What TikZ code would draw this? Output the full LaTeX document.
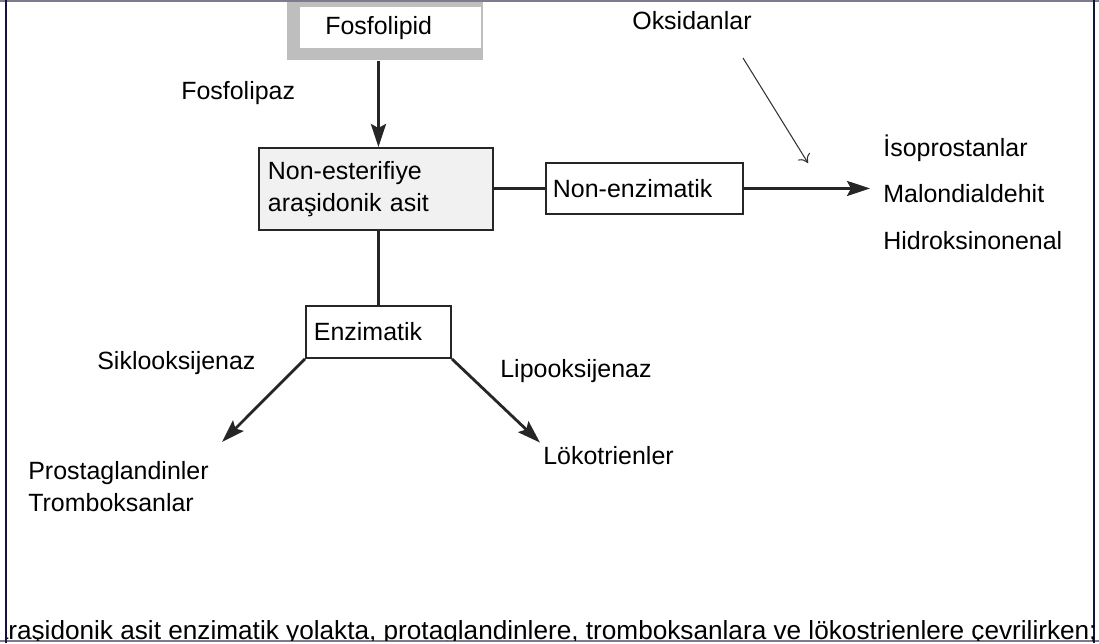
\documentclass[tikz,border=0pt]{standalone}
\usepackage{fontspec}
\setmainfont{Liberation Sans}
\usetikzlibrary{positioning,arrows.meta}
\definecolor{framegrey}{HTML}{7E7B8E}
\definecolor{framedark}{HTML}{14143A}
\definecolor{fosgrey}{HTML}{BEBEBE}
\definecolor{boxfill}{HTML}{F1F1F1}

\begin{document}
\begin{tikzpicture}[x=0.02cm,y=-0.02cm,
    every node/.style={font=\fontsize{14.2}{18.2}\selectfont},
    box/.style={rectangle,draw=black!85,line width=1.1pt,align=left,anchor=north west},
    lbl/.style={inner sep=0.06cm,align=left,anchor=base west},
    arr/.style={-{Stealth[length=0.46cm,width=0.3cm,inset=0.08cm]},line width=1.6pt,draw=black!85},
    link/.style={line width=1.6pt,draw=black!85},
    thinarr/.style={-{To[length=0.16cm,width=0.28cm]},line width=0.6pt,draw=black!80}]
    \useasboundingbox (0,0) rectangle (1099,643);

    % Frame of the page
    \draw[framegrey,line width=0.04cm] (0,1) -- (1099,1);
    \draw[framegrey,line width=0.04cm] (0,641) -- (1099,641);
    \draw[framedark,line width=0.03cm] (6,0) -- (6,643);
    \draw[framedark,line width=0.03cm] (1094,0) -- (1094,643);

    % Fosfolipid
    \node[fill=fosgrey,minimum width=3.92cm,minimum height=1.16cm,inner sep=0pt,anchor=north west] (fosframe) at (287,2) {};
    \node[fill=white,align=left,anchor=north west,minimum height=0.82cm,text width=2.62cm,inner xsep=0.5cm] (fos) at (300,7) {Fosfolipid};

    % Boxes
    \node[box,fill=boxfill,text width=4.32cm,inner xsep=0.18cm,minimum height=1.64cm] (nea) at (258,147) {Non-esterifiye\\araşidonik asit};
    \node[box,text width=3.66cm,inner xsep=0.14cm,minimum height=1.02cm] (nee) at (545,162) {Non-enzimatik};
    \node[box,text width=2.58cm,inner xsep=0.16cm,minimum height=1.04cm] (enz) at (305,305) {Enzimatik};

    % Labels
    \node[lbl] (fpaz) at (178,99) {Fosfolipaz};
    \node[lbl] (oks) at (629,29) {Oksidanlar};
    \node[lbl] (iso) at (880,156) {İsoprostanlar};
    \node[lbl] (mal) at (880,202) {Malondialdehit};
    \node[lbl] (hid) at (880,249) {Hidroksinonenal};
    \node[lbl] (cox) at (94,369) {Siklooksijenaz};
    \node[lbl] (lox) at (497,377) {Lipooksijenaz};
    \node[lbl] (pg) at (25,511) {Prostaglandinler\\Tromboksanlar};
    \node[lbl] (lt) at (540,464) {Lökotrienler};

    \coordinate (pgtip) at (222,442);
    \coordinate (oxstart) at (743,58);
    \coordinate (oxend) at (808,163);

    % Arrows
    \draw[arr] (fosframe.south -| enz.north) -- (nea.north -| enz.north);
    \draw[link] (nea.south -| enz.north) -- (enz.north);
    \draw[link] (nea.east |- nee.west) -- (nee.west);
    \draw[arr,shorten >=0.2cm] (nee.east) -- (nee.east -| mal.west);
    \draw[thinarr] (oxstart) -- (oxend);
    \draw[arr] (enz.south west) -- (pgtip);
    \draw[arr] (enz.south east) -- (lt.north west);

    % Cut line of text at the bottom
    \begin{scope}
        \clip (7,2) rectangle (1093,640);
        \node[anchor=base west,inner sep=0pt,font=\fontsize{14.9}{18}\selectfont] (cutline) at (8,639) {\llap{a}raşidonik asit enzimatik yolakta, protaglandinlere, tromboksanlara ve lökostrienlere çevrilirken;};
    \end{scope}
\end{tikzpicture}
\end{document}
